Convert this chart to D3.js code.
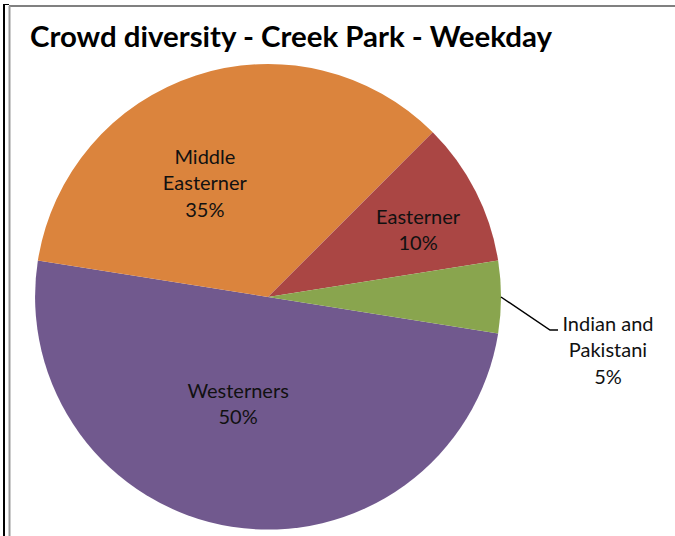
<!DOCTYPE html>
<html><head><meta charset="utf-8">
<script src="https://cdn.jsdelivr.net/npm/d3@7"></script>
<style>body{margin:0;background:#fff}svg{display:block}</style>
</head><body>
<script>
const categories = ["Westerners", "Middle Easterner", "Easterner", "Indian and Pakistani"];
const values = [50, 35, 10, 5];
const labelLines = [["Westerners", "50%"], ["Middle", "Easterner", "35%"], ["Easterner", "10%"], ["Indian and", "Pakistani", "5%"]];
const colors = ["#71598E", "#DB843D", "#AA4644", "#89A54E"];
const title = "Crowd diversity - Creek Park - Weekday";

const W = 675, H = 536;
const svg = d3.select("body").append("svg").attr("width", W).attr("height", H);

// frame
svg.append("line").attr("x1", 4).attr("y1", 4).attr("x2", 4).attr("y2", H).attr("stroke", "#000").attr("stroke-width", 2);
svg.append("line").attr("x1", 3).attr("y1", 4.5).attr("x2", 9).attr("y2", 4.5).attr("stroke", "#000").attr("stroke-width", 1);
svg.append("line").attr("x1", 9).attr("y1", 6).attr("x2", W).attr("y2", 6).attr("stroke", "#808080").attr("stroke-width", 2);
svg.append("line").attr("x1", 9.5).attr("y1", 6).attr("x2", 9.5).attr("y2", H).attr("stroke", "#999").attr("stroke-width", 2);

svg.append("text").attr("x", 30).attr("y", 47).text(title)
  .attr("font-family", "Lato, 'Open Sans', sans-serif").attr("font-weight", "bold")
  .attr("font-size", 29).attr("fill", "#000")
  .attr("textLength", 522).attr("lengthAdjust", "spacingAndGlyphs");

const cx = 268, cy = 297, r = 233;
const deg = Math.PI / 180;
const pie = d3.pie().sort(null).value(d => d).startAngle(99 * deg).endAngle(99 * deg + 2 * Math.PI);
const arcs = pie(values);
const arc = d3.arc().innerRadius(0).outerRadius(r);
const g = svg.append("g").attr("transform", `translate(${cx},${cy})`);
g.selectAll("path").data(arcs).enter().append("path")
  .attr("d", arc).attr("fill", (d, i) => colors[i]);

// label placement: angle shift (deg) from slice middle, radius fraction
const labelPlace = [[6.6, 0.477], [-11, 0.559], [3, 0.705], [null, null]];
const lh = 26.5;
arcs.forEach((d, i) => {
  let x, y;
  if (i === 3) {
    x = 608 - cx; y = 350 - cy;
  } else {
    const a = (d.startAngle + d.endAngle) / 2 + labelPlace[i][0] * deg;
    const rr = r * labelPlace[i][1];
    x = Math.sin(a) * rr; y = -Math.cos(a) * rr;
  }
  const lines = labelLines[i];
  const t = g.append("text").attr("text-anchor", "middle")
    .attr("font-family", "Lato, 'Open Sans', sans-serif").attr("font-size", 20).attr("fill", "#111");
  lines.forEach((s, k) => {
    t.append("tspan").attr("x", x).attr("y", y + (k - (lines.length - 1) / 2) * lh + 7).text(s);
  });
});

// leader line for small slice
const mid = (arcs[3].startAngle + arcs[3].endAngle) / 2;
const p0 = [Math.sin(mid) * r, -Math.cos(mid) * r];
g.append("polyline")
  .attr("points", [[p0[0], p0[1]], [550 - cx, 330 - cy], [558 - cx, 330 - cy]].map(p => p.join(",")).join(" "))
  .attr("fill", "none").attr("stroke", "#000").attr("stroke-width", 1.5);
</script>
</body></html>
